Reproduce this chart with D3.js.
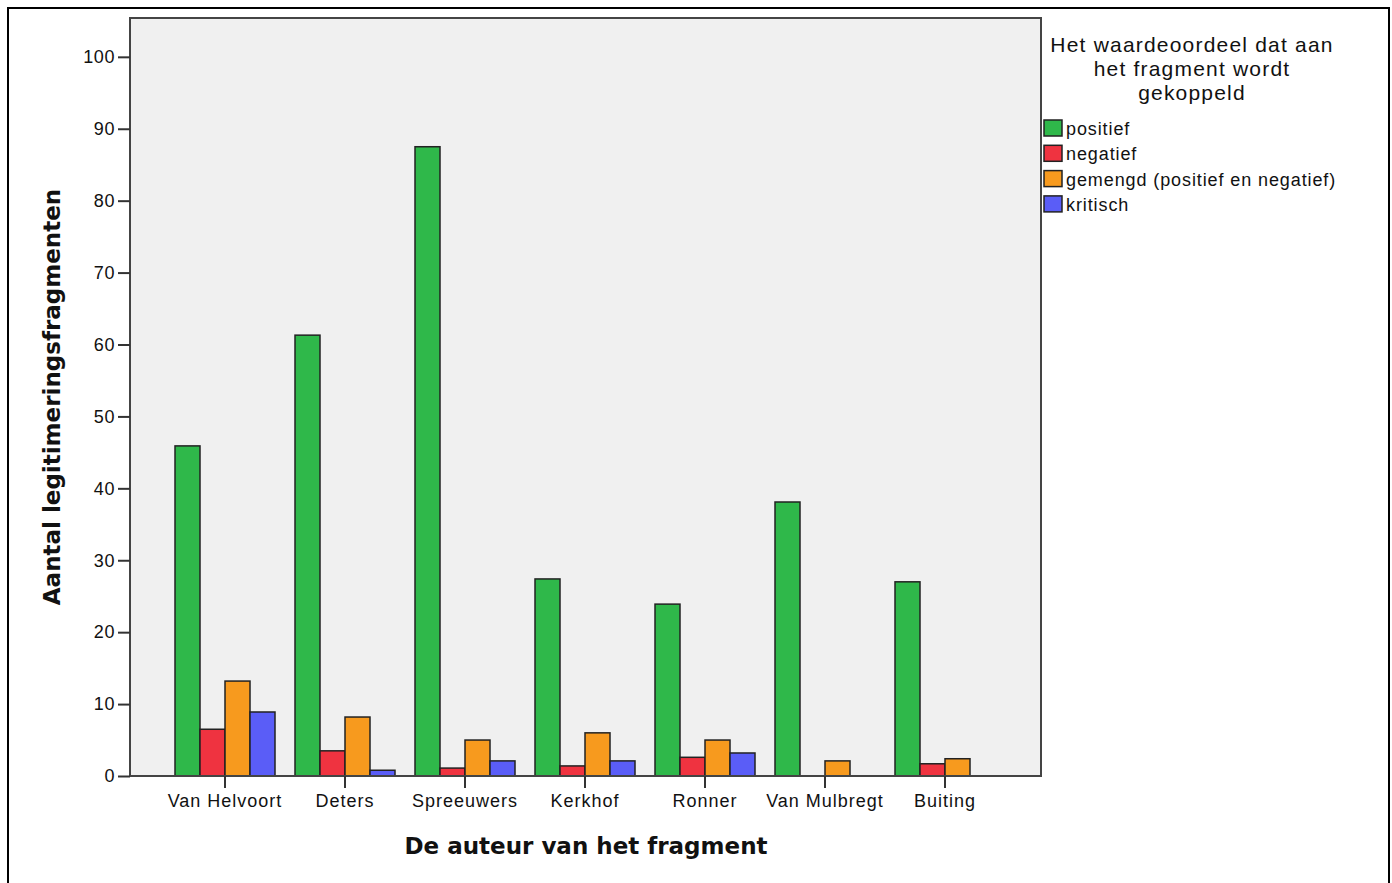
<!DOCTYPE html>
<html>
<head>
<meta charset="utf-8">
<script src="https://cdn.jsdelivr.net/npm/d3@7"></script>
<style>
  body { margin: 0; background: #fff; }
  svg text { font-family: "Liberation Sans", Arial, sans-serif; fill: #111; }
</style>
</head>
<body>
<div id="chart"></div>
<script>
// data
const authors = ["Van Helvoort", "Deters", "Spreeuwers", "Kerkhof", "Ronner", "Van Mulbregt", "Buiting"];
const seriesNames = ["positief", "negatief", "gemengd (positief en negatief)", "kritisch"];
const positief = [45.9, 61.3, 87.5, 27.4, 23.9, 38.1, 27.0];
const negatief = [6.5, 3.5, 1.1, 1.4, 2.6, 0, 1.7];
const gemengd  = [13.2, 8.2, 5.0, 6.0, 5.0, 2.1, 2.4];
const kritisch = [8.9, 0.8, 2.1, 2.1, 3.2, 0, 0];
const yTicks = [0, 10, 20, 30, 40, 50, 60, 70, 80, 90, 100];
const colors = ["#2fb84a", "#ef3340", "#f79a1e", "#5a5df7"];

const series = [positief, negatief, gemengd, kritisch];
const w = 1392, h = 883;
const plot = {left: 130, top: 18, right: 1041, bottom: 776};

const svg = d3.select("#chart").append("svg")
  .attr("width", w)
  .attr("height", h);

// outer frame
svg.append("rect")
  .attr("x", 8).attr("y", 8)
  .attr("width", 1381).attr("height", 890)
  .attr("fill", "none")
  .attr("stroke", "#000")
  .attr("stroke-width", 2);

// groups are 120px apart, first one centred at 225
const x0 = d3.scaleBand()
  .domain(authors)
  .range([165, 1005])
  .paddingInner(1 / 6)
  .paddingOuter(1 / 12);

const x1 = d3.scaleBand()
  .domain(d3.range(seriesNames.length))
  .range([0, x0.bandwidth()]);

const y = d3.scaleLinear()
  .domain([0, 105.4])
  .range([plot.bottom, plot.top]);

// plot background
svg.append("rect")
  .attr("x", plot.left).attr("y", plot.top)
  .attr("width", plot.right - plot.left)
  .attr("height", plot.bottom - plot.top)
  .attr("fill", "#f0f0f0");

// bars
const groups = svg.append("g").selectAll("g")
  .data(authors)
  .join("g")
  .attr("transform", d => "translate(" + x0(d) + ",0)");

groups.selectAll("rect")
  .data((d, i) => series.map((s, k) => ({k: k, v: s[i]})))
  .join("rect")
  .attr("x", d => x1(d.k))
  .attr("y", d => y(d.v))
  .attr("width", x1.bandwidth())
  .attr("height", d => y(0) - y(d.v))
  .attr("fill", d => colors[d.k])
  .attr("stroke", "#222")
  .attr("stroke-width", 1.5);

// plot frame
svg.append("rect")
  .attr("x", plot.left).attr("y", plot.top)
  .attr("width", plot.right - plot.left)
  .attr("height", plot.bottom - plot.top)
  .attr("fill", "none")
  .attr("stroke", "#444")
  .attr("stroke-width", 2);

// y axis
const yAxis = d3.axisLeft(y).tickValues(yTicks).tickSize(12).tickPadding(3).tickSizeOuter(0);
const gy = svg.append("g")
  .attr("transform", "translate(" + plot.left + ",0)")
  .call(yAxis);
gy.select(".domain").remove();
gy.selectAll(".tick line").attr("stroke", "#333").attr("stroke-width", 2);
gy.selectAll(".tick text")
  .style("font-family", "'Liberation Sans', Arial, sans-serif")
  .style("font-size", "18px")
  .style("letter-spacing", "0.6px")
  .attr("fill", "#111");

// x axis
const xAxis = d3.axisBottom(x0).tickSize(12).tickPadding(6).tickSizeOuter(0);
const gx = svg.append("g")
  .attr("transform", "translate(0," + plot.bottom + ")")
  .call(xAxis);
gx.select(".domain").remove();
gx.selectAll(".tick line").attr("stroke", "#333").attr("stroke-width", 2);
gx.selectAll(".tick text")
  .style("font-family", "'Liberation Sans', Arial, sans-serif")
  .style("font-size", "18px")
  .style("letter-spacing", "1px")
  .attr("fill", "#111");

// axis titles
svg.append("text")
  .attr("transform", "translate(60," + 397 + ") rotate(-90)")
  .attr("text-anchor", "middle")
  .style("font-family", "'DejaVu Sans', sans-serif")
  .style("font-size", "23px")
  .style("font-weight", "bold")
  .text("Aantal legitimeringsfragmenten");

svg.append("text")
  .attr("x", 586)
  .attr("y", 854)
  .attr("text-anchor", "middle")
  .style("font-family", "'DejaVu Sans', sans-serif")
  .style("font-size", "23px")
  .style("font-weight", "bold")
  .text("De auteur van het fragment");

// legend
const legendTitle = ["Het waardeoordeel dat aan", "het fragment wordt", "gekoppeld"];
svg.append("g").selectAll("text")
  .data(legendTitle)
  .join("text")
  .attr("x", 1192)
  .attr("y", (d, i) => 52 + i * 24)
  .attr("text-anchor", "middle")
  .style("font-size", "21px")
  .style("letter-spacing", "1.2px")
  .text(d => d);

const legend = svg.append("g").selectAll("g")
  .data(seriesNames)
  .join("g")
  .attr("transform", (d, i) => "translate(1044," + (120 + i * 25.3) + ")");

legend.append("rect")
  .attr("width", 18).attr("height", 16)
  .attr("fill", (d, i) => colors[i])
  .attr("stroke", "#222")
  .attr("stroke-width", 1.5);

legend.append("text")
  .attr("x", 22)
  .attr("y", 15)
  .style("font-size", "18px")
  .style("letter-spacing", "0.9px")
  .text(d => d);
</script>
</body>
</html>
